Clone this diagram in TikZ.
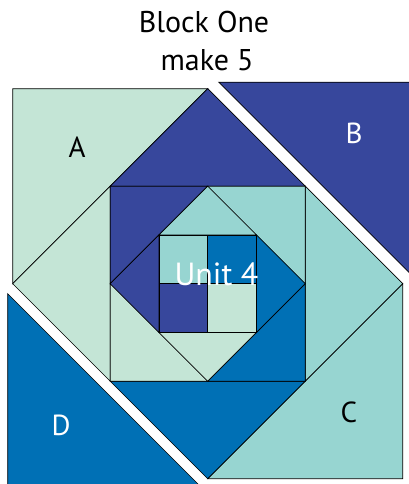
\documentclass[tikz,border=0pt]{standalone}
\usepackage{fontspec}
\setmainfont{PT Sans}
\definecolor{mint}{HTML}{C4E5D6}
\definecolor{navy}{HTML}{37479C}
\definecolor{aqua}{HTML}{97D5D1}
\definecolor{ocean}{HTML}{0070B5}

\begin{document}
\begin{tikzpicture}[
  x=48.75pt,y=48.75pt,
  patch/.style={draw=black,line width=.7pt,line join=miter},
  letter/.style={font=\fontsize{29}{31}\selectfont,inner sep=0pt},
  heading/.style={font=\fontsize{30}{32}\selectfont,inner sep=0pt,anchor=base}
]
  \useasboundingbox (-207.7pt,-200.3pt) rectangle (201.3pt,283.7pt);

  % outer corners, B and D pulled away from the rest
  \filldraw[patch,fill=mint] (-4,4) -- (0,4) -- (-4,0) -- cycle;
  \filldraw[patch,fill=navy,shift={(11pt,6.5pt)}] (0,4) -- (4,4) -- (4,0) -- cycle;
  \filldraw[patch,fill=aqua] (4,0) -- (4,-4) -- (0,-4) -- cycle;
  \filldraw[patch,fill=ocean,shift={(-5pt,-10pt)}] (-4,0) -- (-4,-4) -- (0,-4) -- cycle;

  % big diamond round the second square
  \filldraw[patch,fill=navy] (0,4) -- (-2,2) -- (2,2) -- cycle;
  \filldraw[patch,fill=aqua] (4,0) -- (2,2) -- (2,-2) -- cycle;
  \filldraw[patch,fill=ocean] (0,-4) -- (2,-2) -- (-2,-2) -- cycle;
  \filldraw[patch,fill=mint] (-4,0) -- (-2,-2) -- (-2,2) -- cycle;

  % second square
  \filldraw[patch,fill=navy] (-2,2) -- (0,2) -- (-2,0) -- cycle;
  \filldraw[patch,fill=aqua] (0,2) -- (2,2) -- (2,0) -- cycle;
  \filldraw[patch,fill=ocean] (2,0) -- (2,-2) -- (0,-2) -- cycle;
  \filldraw[patch,fill=mint] (-2,0) -- (-2,-2) -- (0,-2) -- cycle;

  % small diamond
  \filldraw[patch,fill=aqua] (0,2) -- (-1,1) -- (1,1) -- cycle;
  \filldraw[patch,fill=ocean] (2,0) -- (1,1) -- (1,-1) -- cycle;
  \filldraw[patch,fill=mint] (0,-2) -- (1,-1) -- (-1,-1) -- cycle;
  \filldraw[patch,fill=navy] (-2,0) -- (-1,-1) -- (-1,1) -- cycle;

  % four patch centre
  \filldraw[patch,fill=aqua] (-1,0) rectangle (0,1);
  \filldraw[patch,fill=ocean] (0,0) rectangle (1,1);
  \filldraw[patch,fill=navy] (-1,-1) rectangle (0,0);
  \filldraw[patch,fill=mint] (0,-1) rectangle (1,0);

  \node[heading] (title) at (-3.7pt,250.7pt) {Block One};
  \node[heading] (count) at (-0.7pt,212.7pt) {make 5};

  \node[letter] (pieceA) at (-130.7pt,136.7pt) {A};
  \node[letter,white] (pieceB) at (146.3pt,150.7pt) {B};
  \node[letter] (pieceC) at (141.3pt,-128.3pt) {C};
  \node[letter,white] (pieceD) at (-146.7pt,-141.3pt) {D};
  \node[letter,white,font=\fontsize{32}{34}\selectfont] (unit) at (8.8pt,9.2pt) {Unit 4};
\end{tikzpicture}
\end{document}
